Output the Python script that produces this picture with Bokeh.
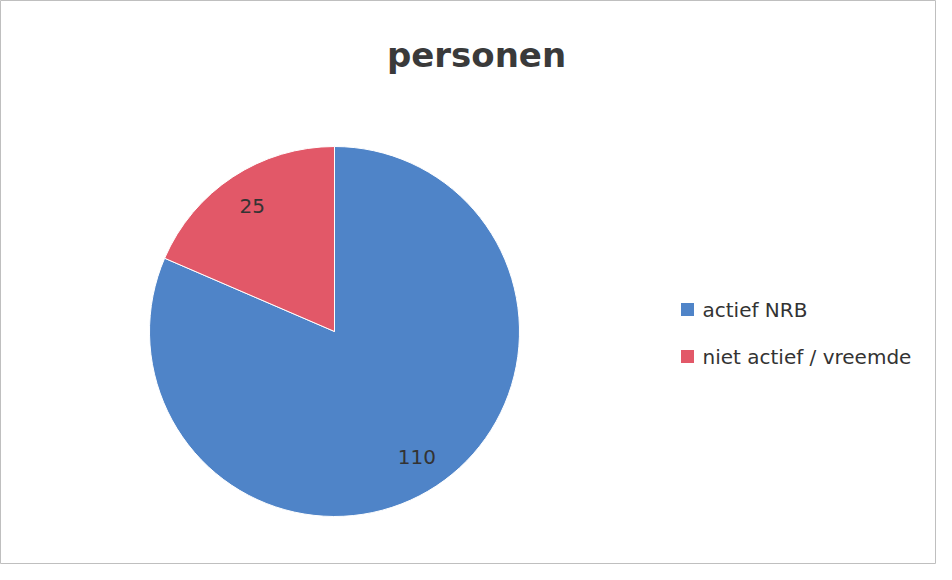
import numpy as np
from bokeh.plotting import figure
from bokeh.models import ColumnDataSource
from bokeh.core.properties import value
from bokeh.embed import file_html
from bokeh.resources import INLINE

categories = ["actief NRB", "niet actief / vreemde"]
counts = [110, 25]
colors = ["#4F84C8", "#E25868"]
title_text = "personen"

W, H = 936, 564
p = figure(width=W, height=H, x_range=(0, W), y_range=(0, H),
           output_backend="svg", toolbar_location=None, min_border=0)
p.axis.visible = False
p.grid.visible = False
p.outline_line_color = "#BFBFBF"
p.outline_line_width = 1
p.background_fill_color = "white"

cx, cy, R = 334, 233, 185
vals = np.array(counts, dtype=float)
frac = vals / vals.sum()
# clockwise from top
ends = np.pi / 2 - np.concatenate([[0], np.cumsum(frac)[:-1]]) * 2 * np.pi
starts = ends - frac * 2 * np.pi
mids = (starts + ends) / 2
src = ColumnDataSource(dict(start=starts, end=ends, color=colors, cat=categories,
                            lx=cx + 0.81 * R * np.cos(mids), ly=cy + 0.81 * R * np.sin(mids),
                            lab=[str(c) for c in counts]))
p.wedge(x=cx, y=cy, radius=R, start_angle="start", end_angle="end",
        fill_color="color", line_color="white", line_width=1, source=src)
p.text(x="lx", y="ly", text="lab", source=src, text_align="center", text_baseline="middle",
       text_font=value("DejaVu Sans"), text_font_size="20px", text_color="#333333")

p.text(x=[476], y=[510], text=[title_text], text_align="center", text_baseline="middle",
       text_font=value("DejaVu Sans"), text_font_style="bold", text_font_size="34px",
       text_color="#3A3A3A")

ly = [255 - 47 * i for i in range(len(categories))]
p.scatter(x=[687] * len(categories), y=ly, marker="square", size=13,
          fill_color=colors, line_color=None)
p.text(x=[702] * len(categories), y=ly, text=categories, text_align="left",
       text_baseline="middle", text_font=value("DejaVu Sans"), text_font_size="20px",
       text_color="#333333")

open("out.html", "w").write(file_html(p, INLINE))
